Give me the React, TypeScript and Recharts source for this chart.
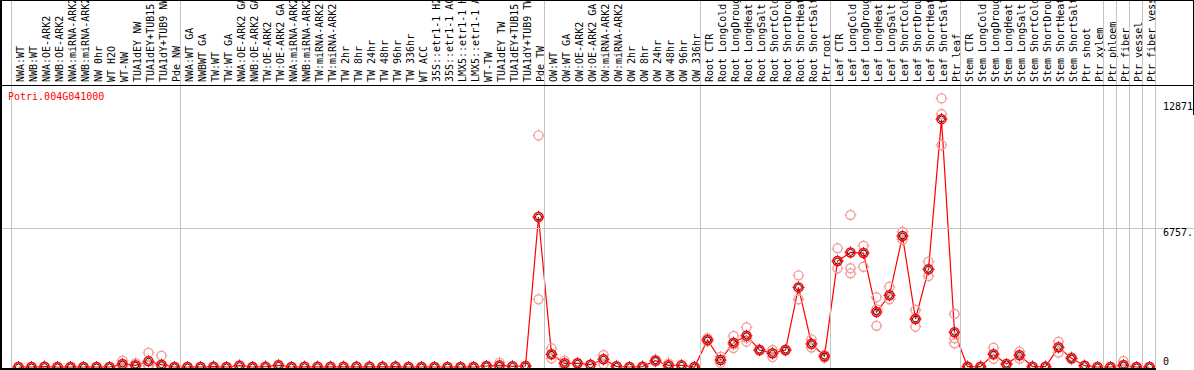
import { ComposedChart, Line, XAxis, YAxis } from "recharts";

const FONT = '"DejaVu Sans Mono", "Liberation Mono", monospace';
const GRID = "#c4c4c4";

// column labels, left to right
const labels = [
  "NWA:WT", "NWB:WT", "NWA:OE-ARK2", "NWB:OE-ARK2", "NWA:miRNA-ARK2", "NWB:miRNA-ARK2",
  "NW 0hr", "WT H2O", "WT-NW", "TUA1dEY NW", "TUA1dEY+TUB15 NW", "TUA1dY+TUB9 NW", "Pde NW",
  "NWA:WT GA", "NWBWT GA", "TW:WT", "TW:WT GA", "NWA:OE-ARK2 GA", "NWB:OE-ARK2 GA",
  "TW:OE-ARK2", "TW:OE-ARK2 GA", "NWA:miRNA-ARK2", "NWB:miRNA-ARK2", "TW:miRNA-ARK2",
  "TW:miRNA-ARK2 GA", "TW 2hr", "TW 8hr", "TW 24hr", "TW 48hr", "TW 96hr", "TW 336hr",
  "WT ACC", "35S::etr1-1 H2O", "35S::etr1-1 ACC", "LMX5::etr1-1 H2O", "LMX5::etr1-1 ACC",
  "WT-TW", "TUA1dEY TW", "TUA1dEY+TUB15 TW", "TUA1dY+TUB9 TW", "Pde TW",
  "OW:WT", "OW:WT GA", "OW:OE-ARK2", "OW:OE-ARK2 GA", "OW:miRNA-ARK2", "OW:miRNA-ARK2 GA",
  "OW 2hr", "OW 8hr", "OW 24hr", "OW 48hr", "OW 96hr", "OW 336hr",
  "Root CTR", "Root LongCold", "Root LongDrought", "Root LongHeat", "Root LongSalt",
  "Root ShortCold", "Root ShortDrought", "Root ShortHeat", "Root ShortSalt", "Ptr root",
  "Leaf CTR", "Leaf LongCold", "Leaf LongDrought", "Leaf LongHeat", "Leaf LongSalt",
  "Leaf ShortCold", "Leaf ShortDrought", "Leaf ShortHeat", "Leaf ShortSalt", "Ptr leaf",
  "Stem CTR", "Stem LongCold", "Stem LongDrought", "Stem LongHeat", "Stem LongSalt",
  "Stem ShortCold", "Stem ShortDrought", "Stem ShortHeat", "Stem ShortSalt", "Ptr shoot",
  "Ptr xylem", "Ptr phloem", "Ptr fiber", "Ptr vessel", "Ptr fiber vessel",
];

// first column of each group (gray separator drawn before it)
const groupStarts = [0, 13, 41, 53, 63, 73, 84, 85, 86, 87];

const means = [
  0, 0, 15, 0, 0, 0, 0, 0, 146, 83, 277, 113, 0,
  0, 0, 16, 0, 63, 0, 16, 80, 0, 10, 10, 10, 10, 10, 10, 10, 20, 0, 0, 0, 0, 0, 0, 49, 80, 32, 49, 7290,
  617, 178, 178, 113, 373, 32, 0, 16, 308, 80, 80, 0,
  1312, 340, 1181, 1522, 826, 664, 826, 3870, 1130, 525,
  5150, 5570, 5540, 2673, 3484, 6367, 2333, 4748, 12050, 1686,
  16, 16, 617, 146, 568, 16, 16, 956, 421, 65, 0,
  0, 97, 0, 0,
];

const rep1 = [
  0, 0, 20, 0, 0, 0, 0, 0, 306, 180, 695, 550, 0,
  0, 0, 16, 0, 90, 0, 16, 110, 0, 10, 10, 10, 10, 10, 10, 10, 20, 0, 0, 0, 0, 0, 0, 49, 210, 32, 49, 11260,
  908, 308, 200, 113, 583, 32, 0, 16, 350, 178, 80, 0,
  1400, 500, 1506, 1929, 850, 826, 850, 4455, 1345, 600,
  5769, 7387, 5895, 3387, 3903, 6576, 2770, 5118, 13058, 2576,
  16, 16, 938, 146, 745, 16, 16, 1230, 480, 65, 0,
  0, 290, 0, 0,
];

const rep2 = [
  0, 0, 15, 0, 0, 0, 0, 0, 120, 60, 100, 100, 0,
  0, 0, 16, 0, 60, 0, 16, 80, 0, 10, 10, 10, 10, 10, 10, 10, 20, 0, 0, 0, 0, 0, 0, 49, 30, 32, 49, 7320,
  617, 178, 178, 113, 373, 32, 0, 16, 308, 80, 80, 0,
  1312, 340, 1100, 1420, 826, 664, 826, 3870, 1100, 525,
  5150, 4800, 5540, 2800, 3484, 6367, 2333, 4748, 12296, 1395,
  16, 16, 617, 146, 568, 16, 16, 956, 421, 65, 0,
  0, 97, 0, 0,
];

const rep3 = [
  0, 0, 10, 0, 0, 0, 0, 0, 10, 10, 40, 0, 0,
  0, 0, 16, 0, 40, 0, 16, 50, 0, 10, 10, 10, 10, 10, 10, 10, 20, 0, 0, 0, 0, 0, 0, 49, 0, 32, 49, 3290,
  422, 50, 160, 113, 140, 32, 0, 16, 260, 0, 80, 0,
  1250, 200, 923, 1230, 800, 480, 800, 3290, 950, 450,
  4797, 4554, 4875, 2007, 3290, 6200, 1959, 4423, 10789, 1152,
  16, 16, 400, 146, 400, 16, 16, 700, 380, 65, 0,
  0, 0, 0, 0,
];

const yTicks = [0, 6757, 12871];
const yTickLabels = ["0", "6757.", "12871"];
const gridValue = 6757;

const rows = means.map((m, i) => ({ x: i, mean: m, r1: rep1[i], r2: rep2[i], r3: rep3[i] }));
const xTicks = labels.map((_, i) => i);

function LabelTick(props: any) {
  const { x, y, payload } = props;
  const i = payload.value as number;
  const tx = x + 5;
  return (
    <g>
      {groupStarts.includes(i) && (
        <line x1={x - 7} x2={x - 7} y1={0} y2={368} stroke={GRID} strokeWidth={1} />
      )}
      {i === labels.length - 1 && (
        <line x1={x + 6} x2={x + 6} y1={0} y2={368} stroke={GRID} strokeWidth={1} />
      )}
      <text
        x={tx}
        y={y}
        transform={`rotate(-90 ${tx} ${y})`}
        textAnchor="start"
        fontSize={10}
        fontFamily={FONT}
        fill="#000"
      >
        {labels[i]}
      </text>
    </g>
  );
}

function ValueTick(props: any) {
  const { x, y, payload } = props;
  const v = payload.value as number;
  const label = yTickLabels[yTicks.indexOf(v)];
  const gy = Math.floor(y) + 0.5;
  return (
    <g>
      {v === gridValue && <line x1={0} x2={1194} y1={gy} y2={gy} stroke={GRID} strokeWidth={1} />}
      <text x={x} y={v === 0 ? y - 1.5 : y + 8} textAnchor="start" fontSize={10} fontFamily={FONT} fill="#000">
        {label}
      </text>
    </g>
  );
}

function Ticks({ cx, cy, color }: { cx: number; cy: number; color: string }) {
  return (
    <g stroke={color} strokeWidth={1}>
      <line x1={cx} x2={cx} y1={cy - 6} y2={cy - 4} />
      <line x1={cx} x2={cx} y1={cy + 4} y2={cy + 6} />
      <line x1={cx - 6} x2={cx - 4} y1={cy} y2={cy} />
      <line x1={cx + 4} x2={cx + 6} y1={cy} y2={cy} />
    </g>
  );
}

function repDot(p: any) {
  if (p.cx == null || p.cy == null) return <g key={p.key ?? p.index} />;
  return (
    <g key={`${p.dataKey}-${p.index}`}>
      <circle cx={p.cx} cy={p.cy} r={4.5} fill="none" stroke="#f2a0a0" strokeWidth={1.4} />
      <Ticks cx={p.cx} cy={p.cy} color="#f2a0a0" />
    </g>
  );
}

function meanDot(p: any) {
  if (p.cx == null || p.cy == null) return <g key={p.index} />;
  return (
    <g key={`m-${p.index}`}>
      <Ticks cx={p.cx} cy={p.cy} color="#ff0000" />
      <circle cx={p.cx} cy={p.cy} r={4.5} fill="none" stroke="#ff0000" strokeWidth={1.5} />
      <circle cx={p.cx} cy={p.cy} r={3} fill="none" stroke="#3a0000" strokeWidth={1} />
    </g>
  );
}

const line = (l: React.CSSProperties) => ({ position: "absolute" as const, background: "#000", ...l });

export default function App() {
  return (
    <div style={{ position: "absolute", left: 0, top: 0, width: 1194, height: 370, background: "#fff", overflow: "hidden" }}>
      <ComposedChart width={1194} height={370} data={rows} margin={{ top: 0, right: 0, bottom: 2, left: 12 }}>
        <XAxis
          orientation="top"
          type="number"
          dataKey="x"
          domain={[-0.5, labels.length - 0.5]}
          ticks={xTicks}
          interval={0}
          height={85}
          axisLine={false}
          tickLine={false}
          tickSize={0}
          tickMargin={3}
          tick={<LabelTick />}
          allowDataOverflow
        />
        <YAxis
          orientation="right"
          width={38}
          domain={[-49, 13709]}
          ticks={yTicks}
          interval={0}
          axisLine={false}
          tickLine={false}
          tickSize={0}
          tickMargin={7}
          tick={<ValueTick />}
          allowDataOverflow
        />
        {["r1", "r2", "r3"].map((k) => (
          <Line
            key={k}
            dataKey={k}
            stroke="none"
            dot={repDot}
            activeDot={false}
            legendType="none"
            isAnimationActive={false}
          />
        ))}
        <Line
          type="linear"
          dataKey="mean"
          stroke="#ff0000"
          strokeWidth={1.2}
          dot={meanDot}
          activeDot={false}
          isAnimationActive={false}
        />
      </ComposedChart>
      <div style={line({ left: 0, top: 0, width: 1194, height: 1 })} />
      <div style={line({ left: 0, top: 0, width: 2, height: 370 })} />
      <div style={line({ left: 0, top: 85, width: 1194, height: 1 })} />
      <div style={line({ left: 0, top: 368, width: 1156, height: 2 })} />
      <div style={line({ left: 1193, top: 0, width: 1, height: 115 })} />
      <div
        style={{
          position: "absolute",
          left: 8,
          top: 92,
          fontFamily: FONT,
          fontSize: 10,
          lineHeight: "10px",
          color: "#ff0000",
          whiteSpace: "nowrap",
        }}
      >
        Potri.004G041000
      </div>
    </div>
  );
}
